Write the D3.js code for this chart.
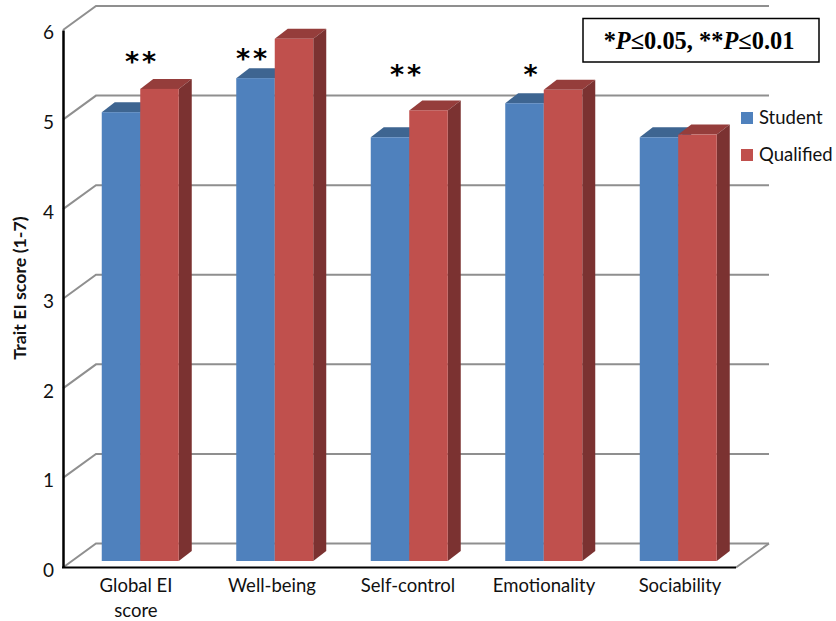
<!DOCTYPE html>
<html lang="en">
<head>
<meta charset="UTF-8">
<script src="https://cdn.jsdelivr.net/npm/d3@7"></script>
<title>Trait EI score</title>
<style>
    html, body { margin: 0; padding: 0; background: #fff; }
    svg { display: block; }
    text { font-family: Lato, "Open Sans", sans-serif; fill: #111; }
</style>
</head>
<body>
<div id="chart"></div>
<script>
// values
const categories = ["Global EI score", "Well-being", "Self-control", "Emotionality", "Sociability"];
const studentValues = [5.01, 5.39, 4.73, 5.11, 4.73];
const qualifiedValues = [5.27, 5.83, 5.03, 5.26, 4.76];
const stars = ["**", "**", "**", "*", ""];
const yTicks = [0, 1, 2, 3, 4, 5, 6];
const seriesNames = ["Student", "Qualified"];

const width = 836, height = 621;

// chart geometry
const wallDx = 33, wallDy = -24;   // depth of the floor
const barDx = 13, barDy = -10;     // depth of a bar
const barBase = 6.5;               // bars stand a bit behind the front edge

const svg = d3.select("#chart").append("svg")
    .attr("width", width)
    .attr("height", height);

const y = d3.scaleLinear().domain([0, 6]).range([567.5, 30]);
const xAxisScale = d3.scaleLinear().domain([0, 1]).range([63, 736]);
const xGroups = d3.scaleBand().domain(categories).range([73, 745.5]);
const xLabels = d3.scaleBand().domain(categories).range([68, 748]);
const barW = 38.5;

// gridlines on the wall and floor
const grid = svg.append("g");
yTicks.forEach(t => {
    grid.append("path")
        .attr("d", d3.line()([
            [xAxisScale(0), y(t)],
            [xAxisScale(0) + wallDx, y(t) + wallDy],
            [xAxisScale(1) + wallDx, y(t) + wallDy]
        ]))
        .attr("fill", "none")
        .attr("stroke", "#8f8f8f")
        .attr("stroke-width", 2);
});
// right edge of the floor
grid.append("line")
    .attr("x1", xAxisScale(1)).attr("y1", y(0))
    .attr("x2", xAxisScale(1) + wallDx).attr("y2", y(0) + wallDy)
    .attr("stroke", "#8f8f8f")
    .attr("stroke-width", 2);

// one 3D bar: top, side, then front
const drawBar = (g, x0, value, front, top, side) => {
    const yTop = y(value) - barBase;
    const yBot = y(0) - barBase;
    g.append("path")
        .attr("d", d3.line()([[x0, yTop], [x0 + barDx, yTop + barDy], [x0 + barW + barDx, yTop + barDy], [x0 + barW, yTop]]) + "Z")
        .attr("fill", top);
    g.append("path")
        .attr("d", d3.line()([[x0 + barW, yTop], [x0 + barW + barDx, yTop + barDy], [x0 + barW + barDx, yBot + barDy], [x0 + barW, yBot]]) + "Z")
        .attr("fill", side);
    g.append("rect")
        .attr("x", x0).attr("y", yTop)
        .attr("width", barW).attr("height", yBot - yTop)
        .attr("fill", front);
};

const bars = svg.append("g");
categories.forEach((c, i) => {
    const x0 = xGroups(c) + (xGroups.bandwidth() - 2 * barW) / 2;
    drawBar(bars, x0, studentValues[i], "#4f81bd", "#3e6591", "#345478");
    drawBar(bars, x0 + barW, qualifiedValues[i], "#c0504d", "#953d3b", "#7b3231");
});

// axes
const yAxis = svg.append("g")
    .attr("transform", `translate(${xAxisScale(0)},0)`)
    .call(d3.axisLeft(y).tickValues(yTicks).tickFormat(d3.format("d")).tickSize(0).tickPadding(9));
yAxis.select(".domain").attr("stroke", "#000").attr("stroke-width", 2.5);
yAxis.selectAll("text")
    .attr("dy", "0.47em")
    .attr("fill", "#111")
    .style("font-size", "19px");

svg.append("line")
    .attr("x1", xAxisScale(0) - 1).attr("y1", y(0))
    .attr("x2", xAxisScale(1)).attr("y2", y(0))
    .attr("stroke", "#000")
    .attr("stroke-width", 2);

// category labels, first one wraps onto two lines
categories.forEach(c => {
    const t = svg.append("text")
        .attr("text-anchor", "middle")
        .style("font-size", "18.5px");
    const lines = c === "Global EI score" ? ["Global EI", "score"] : [c];
    lines.forEach((l, j) => {
        t.append("tspan")
            .attr("x", xLabels(c) + xLabels.bandwidth() / 2)
            .attr("y", 592 + j * 25)
            .text(l);
    });
});

// y title
svg.append("text")
    .attr("transform", "translate(26,288) rotate(-90)")
    .attr("text-anchor", "middle")
    .style("font-size", "17.8px")
    .style("font-weight", "700")
    .text("Trait EI score (1-7)");

// significance stars
const starX = [142, 253, 407, 532];
const starY = [71, 68, 84, 84];
stars.forEach((s, i) => {
    if (!s) return;
    svg.append("text")
        .attr("x", starX[i]).attr("y", starY[i])
        .attr("text-anchor", "middle")
        .style("font-family", "'DejaVu Sans', sans-serif")
        .style("font-size", "27px")
        .style("font-weight", "700")
        .style("letter-spacing", "3px")
        .style("fill", "#000")
        .text(s);
});

// p-value box
svg.append("rect")
    .attr("x", 583).attr("y", 18.5)
    .attr("width", 236).attr("height", 43.5)
    .attr("fill", "#fff")
    .attr("stroke", "#000")
    .attr("stroke-width", 1.5);

const pText = svg.append("text")
    .attr("x", 699).attr("y", 49)
    .attr("text-anchor", "middle")
    .style("font-family", "'Liberation Serif', serif")
    .style("font-size", "24.4px")
    .style("font-weight", "700")
    .style("fill", "#000");
pText.append("tspan").text("*");
pText.append("tspan").style("font-style", "italic").text("P");
pText.append("tspan").text("≤0.05, **");
pText.append("tspan").style("font-style", "italic").text("P");
pText.append("tspan").text("≤0.01");

// legend
const legendColor = d3.scaleOrdinal().domain(seriesNames).range(["#4f81bd", "#c0504d"]);
const legendY = d3.scalePoint().domain(seriesNames).range([118, 155]);
seriesNames.forEach(n => {
    svg.append("rect")
        .attr("x", 741).attr("y", legendY(n) - 6)
        .attr("width", 12).attr("height", 12)
        .attr("fill", legendColor(n));
    svg.append("text")
        .attr("x", 759).attr("y", legendY(n) + 6)
        .style("font-size", "18.5px")
        .text(n);
});
</script>
</body>
</html>
